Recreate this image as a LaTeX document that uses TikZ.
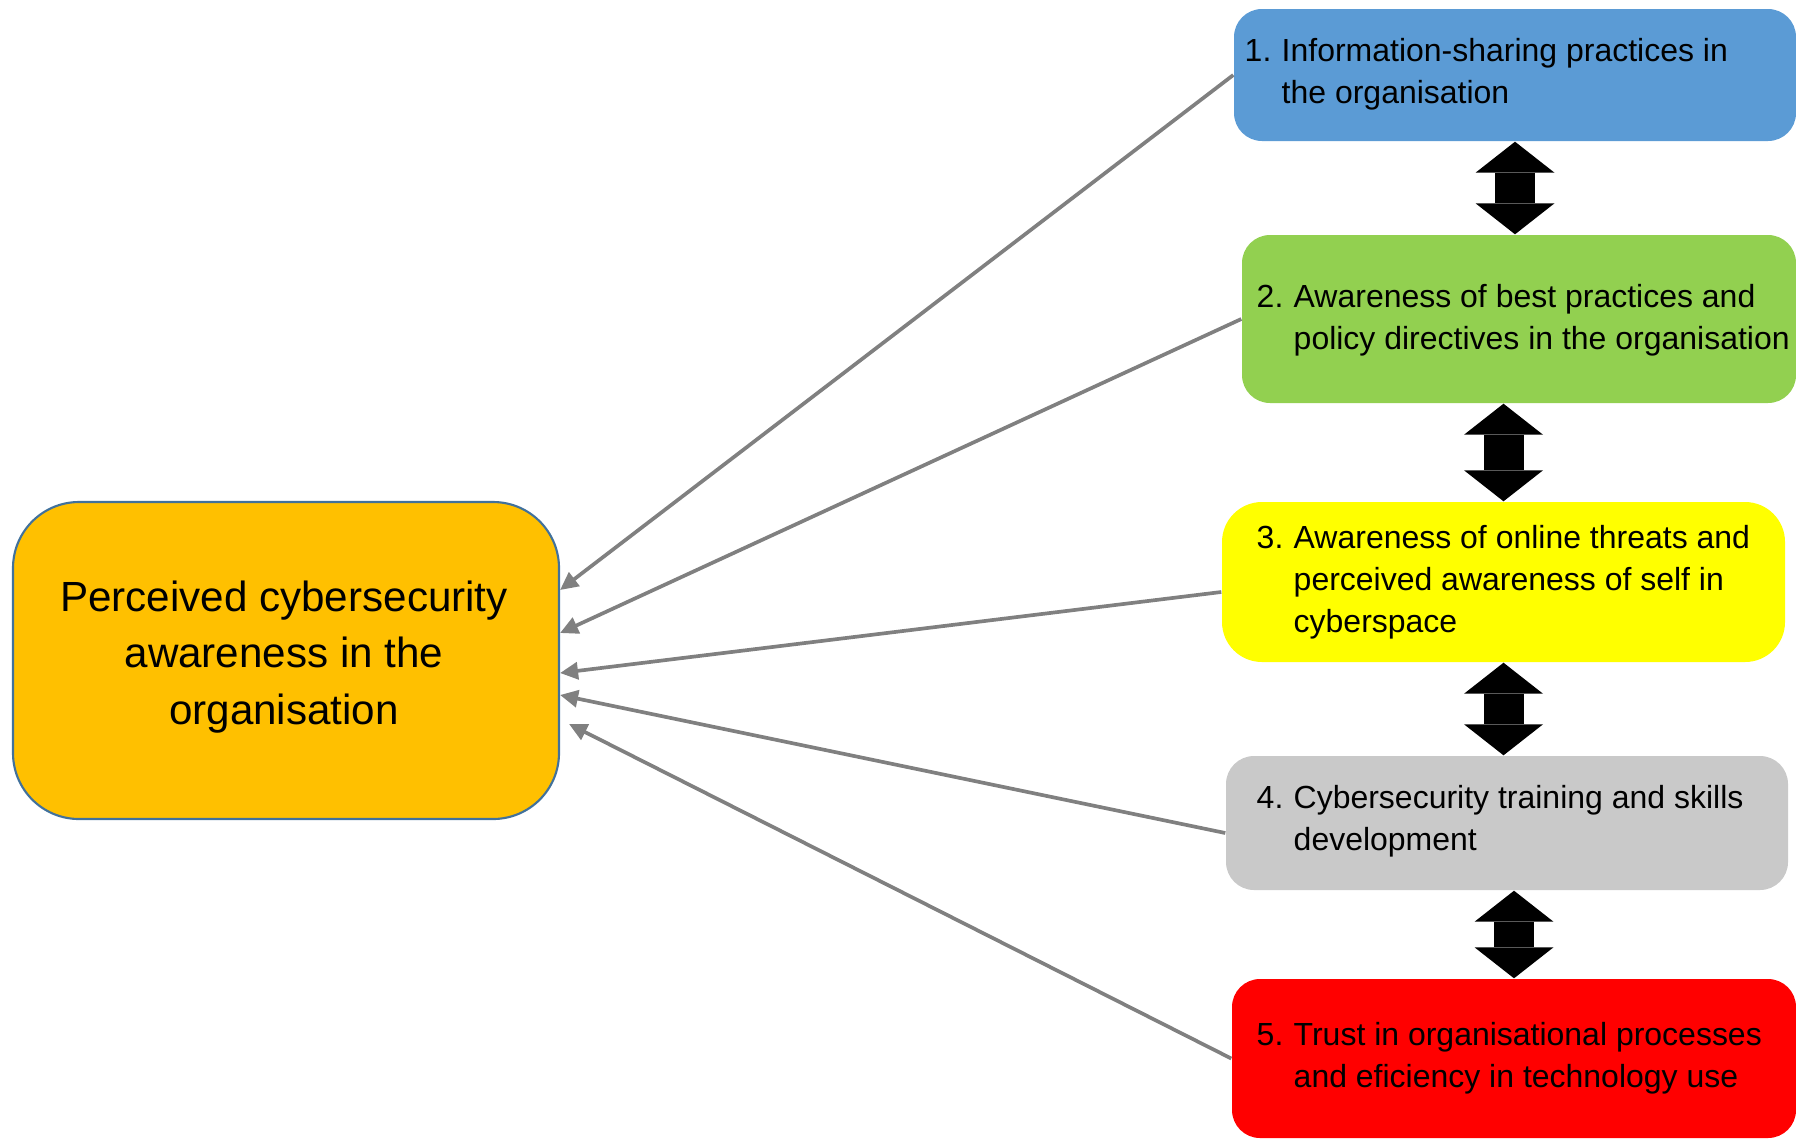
\documentclass[tikz,border=0pt]{standalone}
\usepackage{fontspec}
\setmainfont{Liberation Sans}
\usetikzlibrary{positioning}
\usetikzlibrary{arrows.meta}
\definecolor{mainfill}{HTML}{FFC000}
\definecolor{mainline}{HTML}{41719C}
\definecolor{blu}{HTML}{5B9BD5}
\definecolor{grn}{HTML}{92D050}
\definecolor{yel}{HTML}{FFFF00}
\definecolor{gry}{HTML}{C9C9C9}
\definecolor{rd}{HTML}{FF0000}
\definecolor{arrgray}{HTML}{808080}
\newcommand{\itemno}[1]{\makebox[0.37cm][l]{#1}}
\newcommand{\hangsp}{\hspace*{0.37cm}}
\tikzset{
    boxmain/.style = {rectangle, rounded corners=0.66cm, draw=mainline, line width=0.6pt, fill=mainfill, minimum width=5.46cm, minimum height=3.17cm, align=center, font=\fontsize{12}{16}\selectfont, text=black},
    boxf/.style = {rectangle, rounded corners=0.28cm, draw=none, inner sep=0pt},
    boxb/.style = {boxf, fill=blu},
    boxg/.style = {boxf, fill=grn},
    boxy/.style = {boxf, fill=yel, rounded corners=0.4cm},
    boxgr/.style = {boxf, fill=gry},
    boxr/.style = {boxf, fill=rd},
    txt/.style = {anchor=west, align=left, inner sep=0pt, font=\fontsize{9.1}{11.9}\selectfont, text=black},
    edgeg/.style = {-{Triangle[length=0.18cm,width=0.17cm]}, line width=1.05pt, arrgray}, % factor to awareness
    edgedb/.style = {{Triangle[width=0.79cm,length=0.31cm,line width=0pt]}-{Triangle[width=0.79cm,length=0.31cm,line width=0pt]}, line width=0.4cm, black} % between factors
}
\begin{document}
\begin{tikzpicture}
\path[use as bounding box] (0,0) rectangle (17.96,-11.40);
%
\node[boxmain] at (2.86,-6.605) (main) {};
\node[align=center, font=\fontsize{12}{16}\selectfont] at (2.84,-6.57) (maintxt) {Perceived cybersecurity\\awareness in the\\organisation};
%
\node[boxb, minimum width=5.62cm, minimum height=1.32cm] at (15.15,-0.75) (b1) {};
\node[boxg, minimum width=5.54cm, minimum height=1.68cm] at (15.19,-3.19) (b2) {};
\node[boxy, minimum width=5.63cm, minimum height=1.60cm] at (15.035,-5.82) (b3) {};
\node[boxgr, minimum width=5.62cm, minimum height=1.34cm] at (15.07,-8.23) (b4) {};
\node[boxr, minimum width=5.64cm, minimum height=1.59cm] at (15.14,-10.585) (b5) {};
%
\node[txt] at (12.44,-0.74) (t1) {\itemno{1.}Information-sharing practices in\\\hangsp the organisation};
\node[txt] at (12.56,-3.20) (t2) {\itemno{2.}Awareness of best practices and\\\hangsp policy directives in the organisation};
\node[txt] at (12.56,-5.82) (t3) {\itemno{3.}Awareness of online threats and\\\hangsp perceived awareness of self in\\\hangsp cyberspace};
\node[txt] at (12.56,-8.21) (t4) {\itemno{4.}Cybersecurity training and skills\\\hangsp development};
\node[txt] at (12.56,-10.58) (t5) {\itemno{5.}Trust in organisational processes\\\hangsp and eficiency in technology use};
%
\draw[edgeg] (b1.west) to ([yshift=0.705cm]main.east);
\draw[edgeg] (b2.west) to ([yshift=0.275cm]main.east);
\draw[edgeg] ([yshift=-0.1cm]b3.west) to ([yshift=-0.125cm]main.east);
\draw[edgeg] ([yshift=-0.1cm]b4.west) to ([yshift=-0.345cm]main.east);
\draw[edgeg] (b5.west) to ([xshift=0.09cm,yshift=-0.635cm]main.east);
%
\draw[edgedb] (b1.south) -- (b1.south |- b2.north);
\draw[edgedb] (b3.north |- b2.south) -- (b3.north);
\draw[edgedb] (b3.south) -- (b3.south |- b4.north);
\draw[edgedb] (b5.north |- b4.south) -- (b5.north);

\end{tikzpicture}
\end{document}
